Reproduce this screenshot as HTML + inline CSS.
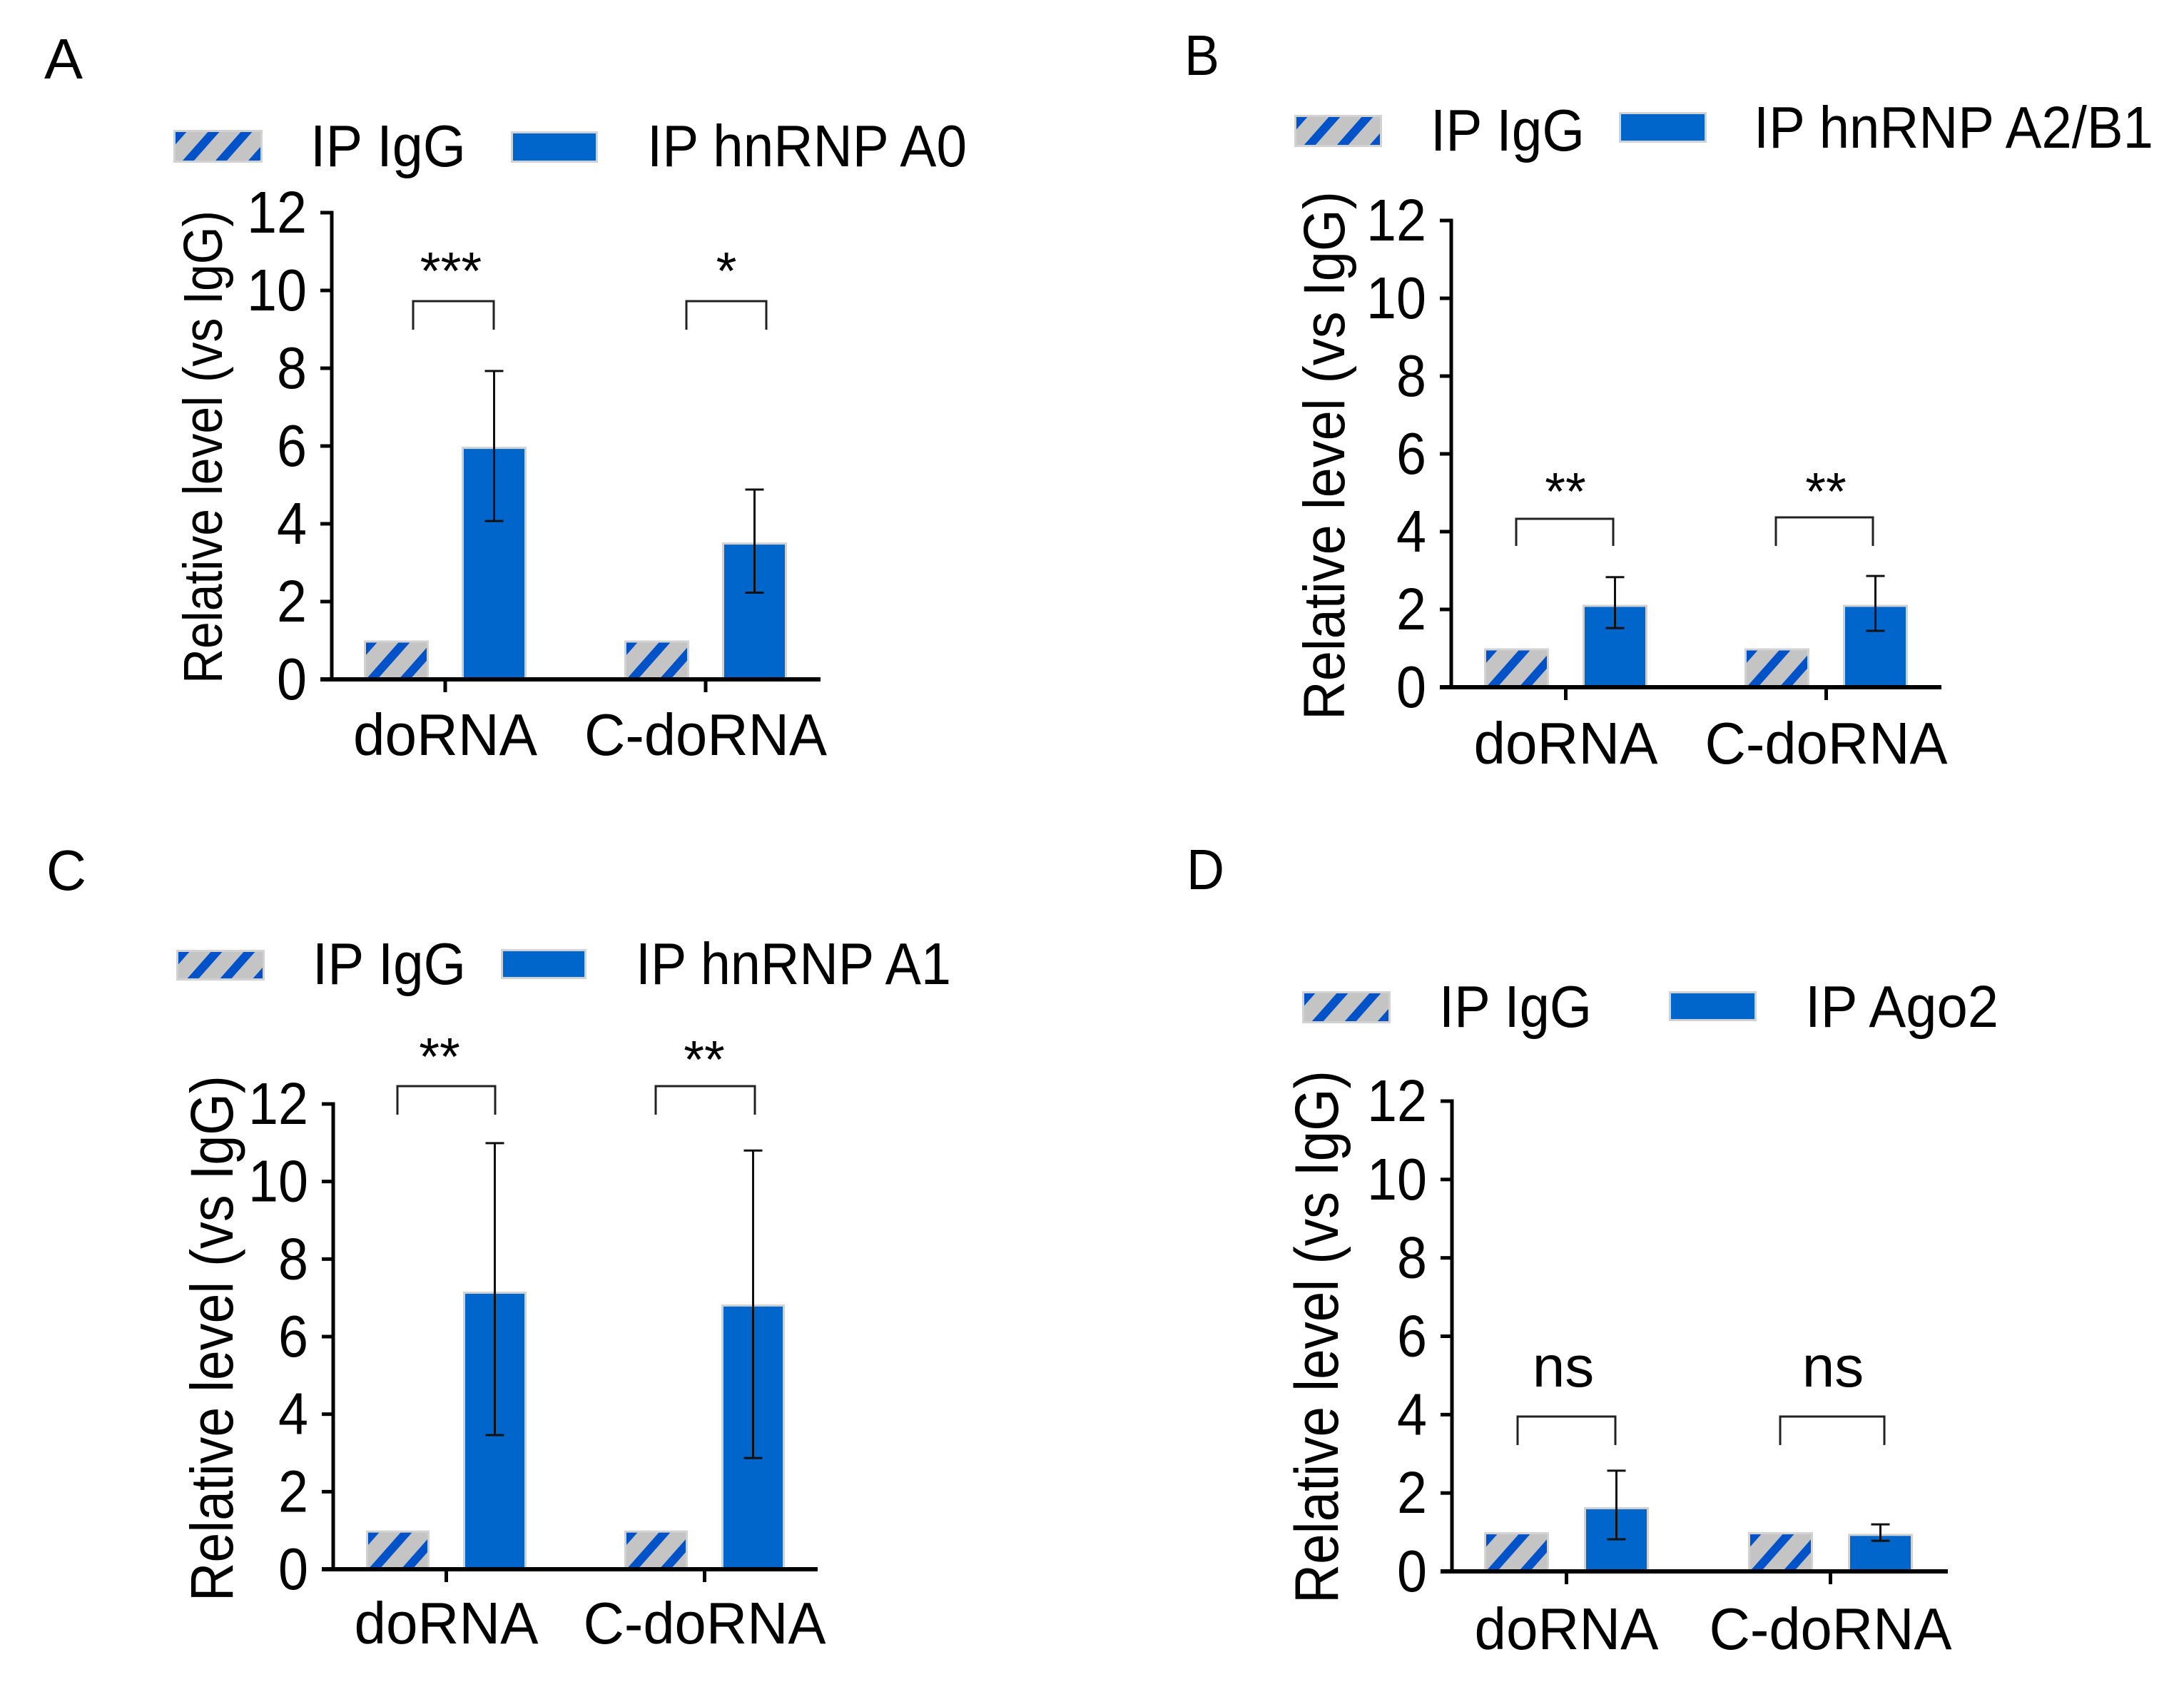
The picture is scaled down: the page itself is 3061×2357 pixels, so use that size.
<!DOCTYPE html>
<html lang="en">
<head>
<meta charset="utf-8">
<title>Relative RNA level by immunoprecipitation</title>
<style>
html,body{margin:0;padding:0;background:#fff;}
svg{display:block;}
text{font-family:"Liberation Sans",sans-serif;fill:#000;}
</style>
</head>
<body>
<svg id="figure" width="3061" height="2357" viewBox="0 0 3061 2357" xmlns="http://www.w3.org/2000/svg">
<defs>
<pattern id="hatch" patternUnits="userSpaceOnUse" width="46" height="52">
<rect width="46" height="52" fill="#c4c4c4"/>
<polygon points="5,0 21,0 -25,52 -41,52" fill="#0052c8"/>
<polygon points="51,0 67,0 21,52 5,52" fill="#0052c8"/>
<polygon points="97,0 113,0 67,52 51,52" fill="#0052c8"/>
</pattern>
</defs>
<rect width="3061" height="2357" fill="#fff"/>

<g>
<text x="62" y="110" font-size="80" textLength="54" lengthAdjust="spacingAndGlyphs">A</text>
<g transform="translate(243,182)"><rect width="125" height="46" fill="#d2d2d2"/><rect x="3" y="3" width="119" height="40" fill="url(#hatch)"/></g>
<text x="435" y="233" font-size="83" textLength="218" lengthAdjust="spacingAndGlyphs">IP IgG</text>
<g transform="translate(716,184)"><rect width="122" height="44" fill="#d2d2d2"/><rect x="3" y="3" width="116" height="38" fill="#0066cc"/></g>
<text x="907" y="233" font-size="83" textLength="448" lengthAdjust="spacingAndGlyphs">IP hnRNP A0</text>
<text transform="translate(311,958) rotate(-90)" font-size="77" textLength="663" lengthAdjust="spacingAndGlyphs">Relative level (vs IgG)</text>
</g>

<g>
<text x="1660" y="105" font-size="80" textLength="49" lengthAdjust="spacingAndGlyphs">B</text>
<g transform="translate(1814,161)"><rect width="123" height="45" fill="#d2d2d2"/><rect x="3" y="3" width="117" height="39" fill="url(#hatch)"/></g>
<text x="2005" y="211" font-size="83" textLength="216" lengthAdjust="spacingAndGlyphs">IP IgG</text>
<g transform="translate(2269,157)"><rect width="123" height="43" fill="#d2d2d2"/><rect x="3" y="3" width="117" height="37" fill="#0066cc"/></g>
<text x="2458" y="207" font-size="83" textLength="560" lengthAdjust="spacingAndGlyphs">IP hnRNP A2/B1</text>
<text transform="translate(1884,1009) rotate(-90)" font-size="82" textLength="741" lengthAdjust="spacingAndGlyphs">Relative level (vs IgG)</text>
</g>

<g>
<text x="65" y="1247" font-size="80" textLength="56" lengthAdjust="spacingAndGlyphs">C</text>
<g transform="translate(247,1331)"><rect width="124" height="43" fill="#d2d2d2"/><rect x="3" y="3" width="118" height="37" fill="url(#hatch)"/></g>
<text x="438" y="1379" font-size="83" textLength="215" lengthAdjust="spacingAndGlyphs">IP IgG</text>
<g transform="translate(702,1330)"><rect width="120" height="42" fill="#d2d2d2"/><rect x="3" y="3" width="114" height="36" fill="#0066cc"/></g>
<text x="891" y="1379" font-size="83" textLength="442" lengthAdjust="spacingAndGlyphs">IP hnRNP A1</text>
<text transform="translate(326,2244) rotate(-90)" font-size="84" textLength="737" lengthAdjust="spacingAndGlyphs">Relative level (vs IgG)</text>
</g>

<g>
<text x="1663" y="1246" font-size="80" textLength="53" lengthAdjust="spacingAndGlyphs">D</text>
<g transform="translate(1825,1389)"><rect width="124" height="45" fill="#d2d2d2"/><rect x="3" y="3" width="118" height="39" fill="url(#hatch)"/></g>
<text x="2017" y="1439" font-size="83" textLength="214" lengthAdjust="spacingAndGlyphs">IP IgG</text>
<g transform="translate(2339,1389)"><rect width="123" height="42" fill="#d2d2d2"/><rect x="3" y="3" width="117" height="36" fill="#0066cc"/></g>
<text x="2530" y="1439" font-size="83" textLength="271" lengthAdjust="spacingAndGlyphs">IP Ago2</text>
<text transform="translate(1875,2247) rotate(-90)" font-size="86" textLength="747" lengthAdjust="spacingAndGlyphs">Relative level (vs IgG)</text>
</g>
</svg>
<script>
const categories = ['doRNA', 'C-doRNA'];
const yTickLabels = [0, 2, 4, 6, 8, 10, 12];

const panelAIgG = [1, 1];
const panelAIp = [5.98, 3.52];
const panelAErrHigh = [7.93, 4.88];
const panelAErrLow = [4.07, 2.23];
const panelASig = ['***', '*'];

const panelBIgG = [1, 1];
const panelBIp = [2.12, 2.12];
const panelBErrHigh = [2.83, 2.86];
const panelBErrLow = [1.52, 1.45];
const panelBSig = ['**', '**'];

const panelCIgG = [1, 1];
const panelCIp = [7.16, 6.83];
const panelCErrHigh = [10.99, 10.8];
const panelCErrLow = [3.46, 2.87];
const panelCSig = ['**', '**'];

const panelDIgG = [1, 1];
const panelDIp = [1.64, 0.96];
const panelDErrHigh = [2.57, 1.2];
const panelDErrLow = [0.82, 0.78];
const panelDSig = ['ns', 'ns'];

const panels = [
  {id: 'a', igg: panelAIgG, ip: panelAIp, hi: panelAErrHigh, lo: panelAErrLow, sig: panelASig,
   axisX: 465, y0: 952, y12: 298, xEnd: 1150, start: 510, step: 365, offset: 137, barW: 91,
   labelBase: 1058, br: [[579, 692, 422, 462, 632, 405, 74], [962, 1074, 422, 462, 1018, 405, 74]]},
  {id: 'b', igg: panelBIgG, ip: panelBIp, hi: panelBErrHigh, lo: panelBErrLow, sig: panelBSig,
   axisX: 2034, y0: 963, y12: 309, xEnd: 2721, start: 2080, step: 365, offset: 138, barW: 91,
   labelBase: 1070, br: [[2125, 2261, 727, 765, 2194, 714, 74], [2489, 2625, 725, 765, 2559, 714, 74]]},
  {id: 'c', igg: panelCIgG, ip: panelCIp, hi: panelCErrHigh, lo: panelCErrLow, sig: panelCSig,
   axisX: 467, y0: 2199, y12: 1547, xEnd: 1146, start: 513, step: 362, offset: 136, barW: 89,
   labelBase: 2303, br: [[557, 694, 1522, 1562, 616, 1506, 74], [919, 1058, 1522, 1562, 987, 1510, 74]]},
  {id: 'd', igg: panelDIgG, ip: panelDIp, hi: panelDErrHigh, lo: panelDErrLow, sig: panelDSig,
   axisX: 2035, y0: 2202, y12: 1543, xEnd: 2730, start: 2080, step: 370, offset: 140, barW: 91,
   labelBase: 2311, br: [[2127, 2264, 1985, 2025, 2191, 1943, 82], [2495, 2641, 1985, 2025, 2569, 1943, 82]]}
];

const NS = 'http://www.w3.org/2000/svg';
const figure = document.getElementById('figure');

function mk(tag, attrs, parent) {
  const el = document.createElementNS(NS, tag);
  for (const k in attrs) el.setAttribute(k, attrs[k]);
  parent.appendChild(el);
  return el;
}

function drawPanel(p) {
  const g = mk('g', {}, figure);
  
  
  const maxTick = yTickLabels[yTickLabels.length - 1];
  const y = v => p.y0 - v * (p.y0 - p.y12) / maxTick;
  const groupX = i => p.start + i * p.step;
  const ipX = i => groupX(i) + p.offset;
  const groupCenter = i => groupX(i) + (p.offset + p.barW) / 2;

  categories.forEach((cat, i) => {
    const igg = mk('g', {transform: 'translate(' + groupX(i) + ',' + y(p.igg[i]) + ')'}, g);
    
    
    const iggH = y(0) - y(p.igg[i]);
    mk('rect', {width: p.barW, height: iggH, fill: '#d2d2d2'}, igg);
    mk('rect', {x: 3, y: 3, width: p.barW - 6, height: iggH - 3, fill: 'url(#hatch)'}, igg);

    const ip = mk('g', {transform: 'translate(' + ipX(i) + ',' + y(p.ip[i]) + ')'}, g);
    
    
    const ipH = y(0) - y(p.ip[i]);
    mk('rect', {width: p.barW, height: ipH, fill: '#d2d2d2'}, ip);
    mk('rect', {x: 3, y: 3, width: p.barW - 6, height: ipH - 3, fill: '#0066cc'}, ip);

    const cx = ipX(i) + p.barW / 2;
    const err = mk('path', {
      d: 'M' + cx + ' ' + y(p.hi[i]) + 'V' + y(p.lo[i]) +
         'M' + (cx - 13) + ' ' + y(p.hi[i]) + 'h26' +
         'M' + (cx - 13) + ' ' + y(p.lo[i]) + 'h26',
      fill: 'none', stroke: '#111', 'stroke-width': 3
    }, g);
    
    

    const tick = mk('line', {x1: groupCenter(i), x2: groupCenter(i), y1: y(0), y2: y(0) + 18, stroke: '#000', 'stroke-width': 5}, g);
    
    

    const lab = mk('text', {x: groupCenter(i), y: p.labelBase, 'font-size': 83, 'text-anchor': 'middle', textLength: cat.length > 5 ? 340 : 258, lengthAdjust: 'spacingAndGlyphs'}, g);
    lab.textContent = cat;
    
    

    const b = p.br[i];
    const bracket = mk('path', {d: 'M' + b[0] + ' ' + b[3] + 'V' + b[2] + 'H' + b[1] + 'V' + b[3], fill: 'none', stroke: '#222', 'stroke-width': 3}, g);
    
    

    const sig = mk('text', {x: b[4], y: b[5], 'font-size': b[6], 'text-anchor': 'middle'}, g);
    sig.textContent = p.sig[i];
    
    
  });

  yTickLabels.forEach(v => {
    const t = mk('line', {x1: p.axisX - 16, x2: p.axisX, y1: y(v), y2: y(v), stroke: '#000', 'stroke-width': 5}, g);
    
    
    const lab = mk('text', {x: p.axisX - 35, y: y(v) + 28, 'font-size': 83, 'text-anchor': 'end', textLength: String(v).length * 42, lengthAdjust: 'spacingAndGlyphs'}, g);
    lab.textContent = v;
    
    
  });

  const yAxis = mk('line', {x1: p.axisX, x2: p.axisX, y1: y(maxTick) - 2.5, y2: y(0), stroke: '#000', 'stroke-width': 5}, g);
  
  
  const xAxis = mk('line', {x1: p.axisX - 16, x2: p.xEnd, y1: y(0), y2: y(0), stroke: '#000', 'stroke-width': 6}, g);
  
  
}

panels.forEach(drawPanel);
</script>
</body>
</html>
